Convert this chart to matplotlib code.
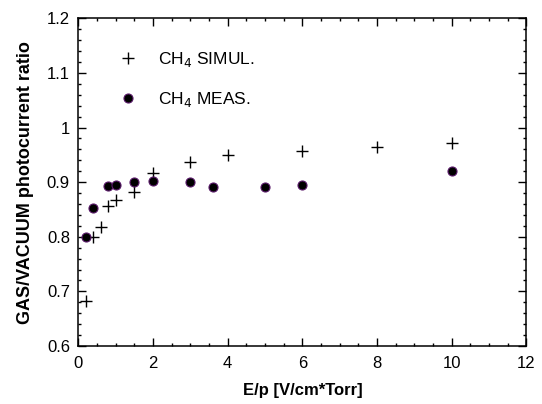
import matplotlib
matplotlib.use("Agg")
import matplotlib.pyplot as plt
from matplotlib.ticker import MultipleLocator, FuncFormatter

plt.rcParams['font.family'] = ['Liberation Sans', 'DejaVu Sans']

# simulated CH4 (crosses)
sim_x = [0.2, 0.4, 0.6, 0.8, 1.0, 1.5, 2.0, 3.0, 4.0, 6.0, 8.0, 10.0]
sim_y = [0.682, 0.800, 0.817, 0.856, 0.867, 0.882, 0.916, 0.937, 0.949, 0.957, 0.965, 0.972]

# measured CH4 (dots)
meas_x = [0.2, 0.4, 0.8, 1.0, 1.5, 2.0, 3.0, 3.6, 5.0, 6.0, 10.0]
meas_y = [0.800, 0.853, 0.893, 0.895, 0.900, 0.903, 0.900, 0.891, 0.892, 0.895, 0.921]

fig = plt.figure(figsize=(5.42, 4.04), dpi=100)
ax = fig.add_axes([0.1445, 0.1436, 0.8267, 0.8111])

ax.plot(sim_x, sim_y, linestyle='none', marker='+', markersize=9,
        markeredgewidth=1.0, color='black', label=r'CH$_4$ SIMUL.')
ax.plot(meas_x, meas_y, linestyle='none', marker='o', markersize=6.5,
        markerfacecolor='black', markeredgecolor='#5a1a6a', markeredgewidth=0.8,
        label=r'CH$_4$ MEAS.')

ax.set_xlim(0, 12)
ax.set_ylim(0.6, 1.2)
ax.xaxis.set_major_locator(MultipleLocator(2))
ax.xaxis.set_minor_locator(MultipleLocator(0.5))
ax.yaxis.set_major_locator(MultipleLocator(0.1))
ax.yaxis.set_minor_locator(MultipleLocator(0.02))
ax.yaxis.set_major_formatter(FuncFormatter(lambda v, p: '%g' % round(v, 2)))

ax.tick_params(which='both', direction='in', top=True, right=True, width=1.0)
ax.tick_params(which='major', length=5.5, labelsize=12)
ax.tick_params(axis='x', which='major', pad=7)
ax.tick_params(axis='y', which='major', pad=6)
ax.tick_params(which='minor', length=2.5)
for s in ax.spines.values():
    s.set_linewidth(1.1)

ax.set_xlabel('E/p [V/cm*Torr]', fontsize=12, fontweight='bold', labelpad=9)
ax.set_ylabel('GAS/VACUUM photocurrent ratio', fontsize=13, fontweight='bold', labelpad=9)

leg = ax.legend(loc='upper left', bbox_to_anchor=(0.057, 0.9255), frameon=False,
                fontsize=12.5, handlelength=2.0, handletextpad=0.73,
                labelspacing=1.24, borderaxespad=0)

fig.savefig('out.png', dpi=100)
